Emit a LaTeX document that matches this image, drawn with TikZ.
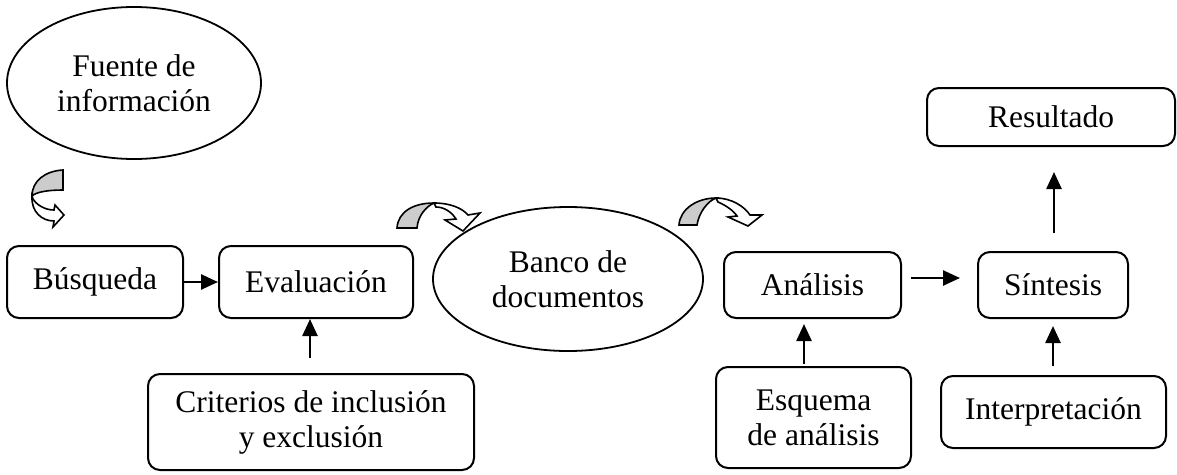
\documentclass[tikz,border=0pt]{standalone}
\usepackage{fontspec}
\setmainfont{Liberation Serif}
\usetikzlibrary{arrows.meta,shapes.geometric}
\definecolor{band}{gray}{0.8}
\tikzset{
  box/.style={draw,line width=2pt,rounded corners=12pt,inner sep=0pt,align=center,
    font=\fontsize{31.5}{35}\selectfont},
  oval/.style={draw,ellipse,line width=1.8pt,inner sep=0pt,align=center,
    font=\fontsize{31.5}{35}\selectfont},
  arr/.style={line width=2.5pt,-{Triangle[length=17pt,width=15pt]}},
  bent/.style={draw,line width=1.6pt,line join=miter},
}
\begin{document}
\begin{tikzpicture}[x=1pt,y=-1pt]
\useasboundingbox (0,0) rectangle (1177,474);
% nodes
\node[oval,minimum width=254pt,minimum height=152pt] (fuente) at (134,83) {Fuente de\\información};
\node[box,minimum width=176pt,minimum height=72pt] (busq) at (95,282) {Búsqueda};
\node[box,minimum width=194pt,minimum height=72pt] (eval) at (316,282) {Evaluación};
\node[box,minimum width=326pt,minimum height=96pt] (crit) at (311,422) {Criterios de inclusión\\y exclusión};
\node[oval,minimum width=270pt,minimum height=144pt] (banco) at (568,279) {Banco de\\documentos};
\node[box,minimum width=177pt,minimum height=66pt] (anal) at (812.5,285) {Análisis};
\node[box,minimum width=150pt,minimum height=66pt] (sint) at (1053,285) {Síntesis};
\node[box,minimum width=248pt,minimum height=58pt] (res) at (1051,117) {Resultado};
\node[box,minimum width=195pt,minimum height=101pt] (esq) at (813.5,417.5) {Esquema\\de análisis};
\node[box,minimum width=225pt,minimum height=72pt] (interp) at (1053.5,412) {Interpretación};
% straight connectors
\draw[arr] (busq.east) -- (eval.west);
\draw[arr,shorten <=15pt] ([xshift=-1pt]crit.north) -- ([xshift=-6pt]eval.south);
\draw[arr,shorten <=9pt,shorten >=17pt] ([yshift=7pt]anal.east) -- ([yshift=7pt]sint.west);
\draw[arr,shorten <=2pt,shorten >=5pt] ([xshift=-9.5pt]esq.north) -- ([xshift=-8.5pt]anal.south);
\draw[arr,shorten <=9pt,shorten >=7pt] ([xshift=-0.5pt]interp.north) -- (sint.south);
\draw[arr,shorten <=18pt,shorten >=25pt] ([xshift=1pt]sint.north) -- ([xshift=3pt]res.south);
% curved block arrow 1 (below Fuente)
\filldraw[bent,fill=band] (63,170) .. controls (45,171) and (32,181) .. (32,196)
  .. controls (36,192) and (48,190) .. (63,190) -- cycle;
\filldraw[bent,fill=white] (32,196) .. controls (31,212) and (42,221) .. (54,221)
  -- (53,227) -- (64,215) -- (55,205) -- (54,210)
  .. controls (44,210) and (36,204) .. (33,199) -- cycle;
% curved block arrow 2 (Evaluación to Banco)
\filldraw[bent,fill=band] (397,228) .. controls (398,212) and (413,203) .. (434,203)
  .. controls (427,206) and (418,215) .. (417,228) -- cycle;
\filldraw[bent,fill=white] (434,203) .. controls (450,203) and (462,208) .. (468,215)
  -- (480,213) -- (463,231) -- (445,220) -- (456,219)
  .. controls (451,211) and (443,207) .. (436,207) -- cycle;
% curved block arrow 3 (Banco to Análisis)
\filldraw[bent,fill=band] (679,225) .. controls (680,209) and (697,198) .. (716,198)
  .. controls (708,201) and (699,212) .. (697,225) -- cycle;
\filldraw[bent,fill=white] (716,198) .. controls (731,198) and (744,206) .. (750,215)
  -- (762,215) -- (748,226) -- (728,217) -- (737,216)
  .. controls (733,210) and (725,205) .. (718,202) -- cycle;
\end{tikzpicture}
\end{document}
